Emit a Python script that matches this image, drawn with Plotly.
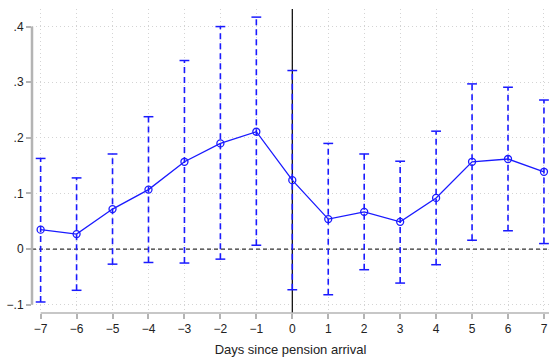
import plotly.graph_objects as go

days = [-7, -6, -5, -4, -3, -2, -1, 0, 1, 2, 3, 4, 5, 6, 7]
coef = [0.035, 0.027, 0.072, 0.107, 0.157, 0.190, 0.211, 0.124, 0.054, 0.067, 0.049, 0.092, 0.157, 0.162, 0.139]
ci_hi = [0.163, 0.128, 0.171, 0.238, 0.339, 0.400, 0.417, 0.321, 0.190, 0.171, 0.158, 0.212, 0.297, 0.291, 0.268]
ci_lo = [-0.095, -0.074, -0.027, -0.024, -0.025, -0.018, 0.007, -0.073, -0.082, -0.037, -0.061, -0.028, 0.016, 0.033, 0.010]

y_ticks = [-0.1, 0, 0.1, 0.2, 0.3, 0.4]
y_labels = ["\u2212.1", "0", ".1", ".2", ".3", ".4"]
x_labels = [str(d).replace("-", "\u2212") for d in days]

x_range = [-7.24, 7.14]
y_range = [-0.1148, 0.4316]

blue = "#1a1aff"
grid = "#d4d4d4"
axis_c = "#b4b4b4"

fig = go.Figure()

# reference lines (as traces so they sit above the grid, below the data)
fig.add_trace(go.Scatter(x=[0, 0], y=y_range, mode="lines",
                         line=dict(color="black", width=1.2),
                         hoverinfo="skip", showlegend=False))
fig.add_trace(go.Scatter(x=x_range, y=[0, 0], mode="lines",
                         line=dict(color="#333333", width=1.2, dash="4px,3px"),
                         hoverinfo="skip", showlegend=False))

# dashed CI lines
ex, ey = [], []
for d, lo, hi in zip(days, ci_lo, ci_hi):
    ex += [d, d, None]
    ey += [lo, hi, None]
fig.add_trace(go.Scatter(x=ex, y=ey, mode="lines",
                         line=dict(color=blue, width=1.6, dash="6px,4px"),
                         hoverinfo="skip", showlegend=False))
# caps
fig.add_trace(go.Scatter(x=days + days, y=ci_lo + ci_hi, mode="markers",
                         marker=dict(symbol="line-ew", size=7,
                                     line=dict(color=blue, width=1.5)),
                         hoverinfo="skip", showlegend=False))
# point estimates
fig.add_trace(go.Scatter(x=days, y=coef, mode="lines+markers",
                         line=dict(color=blue, width=1.3),
                         marker=dict(symbol="circle-open", size=7,
                                     color=blue, line=dict(width=1.3)),
                         showlegend=False))

# Stata-style axis lines spanning only the tick range
fig.add_shape(type="line", xref="paper", yref="y", x0=0, x1=0,
              y0=y_ticks[0], y1=y_ticks[-1],
              line=dict(color=axis_c, width=2.5), layer="above")
fig.add_shape(type="line", xref="x", yref="paper", x0=days[0], x1=x_range[1],
              y0=0, y1=0,
              line=dict(color=axis_c, width=1.5), layer="above")

font = dict(family="Liberation Sans, Arial, sans-serif", size=12, color="#222222")

fig.update_layout(
    width=549, height=357,
    margin=dict(l=32, r=0, t=9, b=42),
    plot_bgcolor="white", paper_bgcolor="white",
    font=font,
    xaxis=dict(range=x_range, tickvals=days, ticktext=x_labels,
               showgrid=True, gridcolor=grid, griddash="1px,3px", gridwidth=1,
               showline=False,
               ticks="outside", ticklen=5, tickcolor=axis_c, tickwidth=1.5,
               zeroline=False,
               title=dict(text="Days since pension arrival", standoff=11,
                          font=dict(size=13))),
    yaxis=dict(range=y_range, tickvals=y_ticks, ticktext=y_labels,
               showgrid=True, gridcolor=grid, griddash="1px,3px", gridwidth=1,
               showline=False,
               ticks="outside", ticklen=5, tickcolor=axis_c, tickwidth=1.5,
               zeroline=False),
)

fig.write_html("out.html")
